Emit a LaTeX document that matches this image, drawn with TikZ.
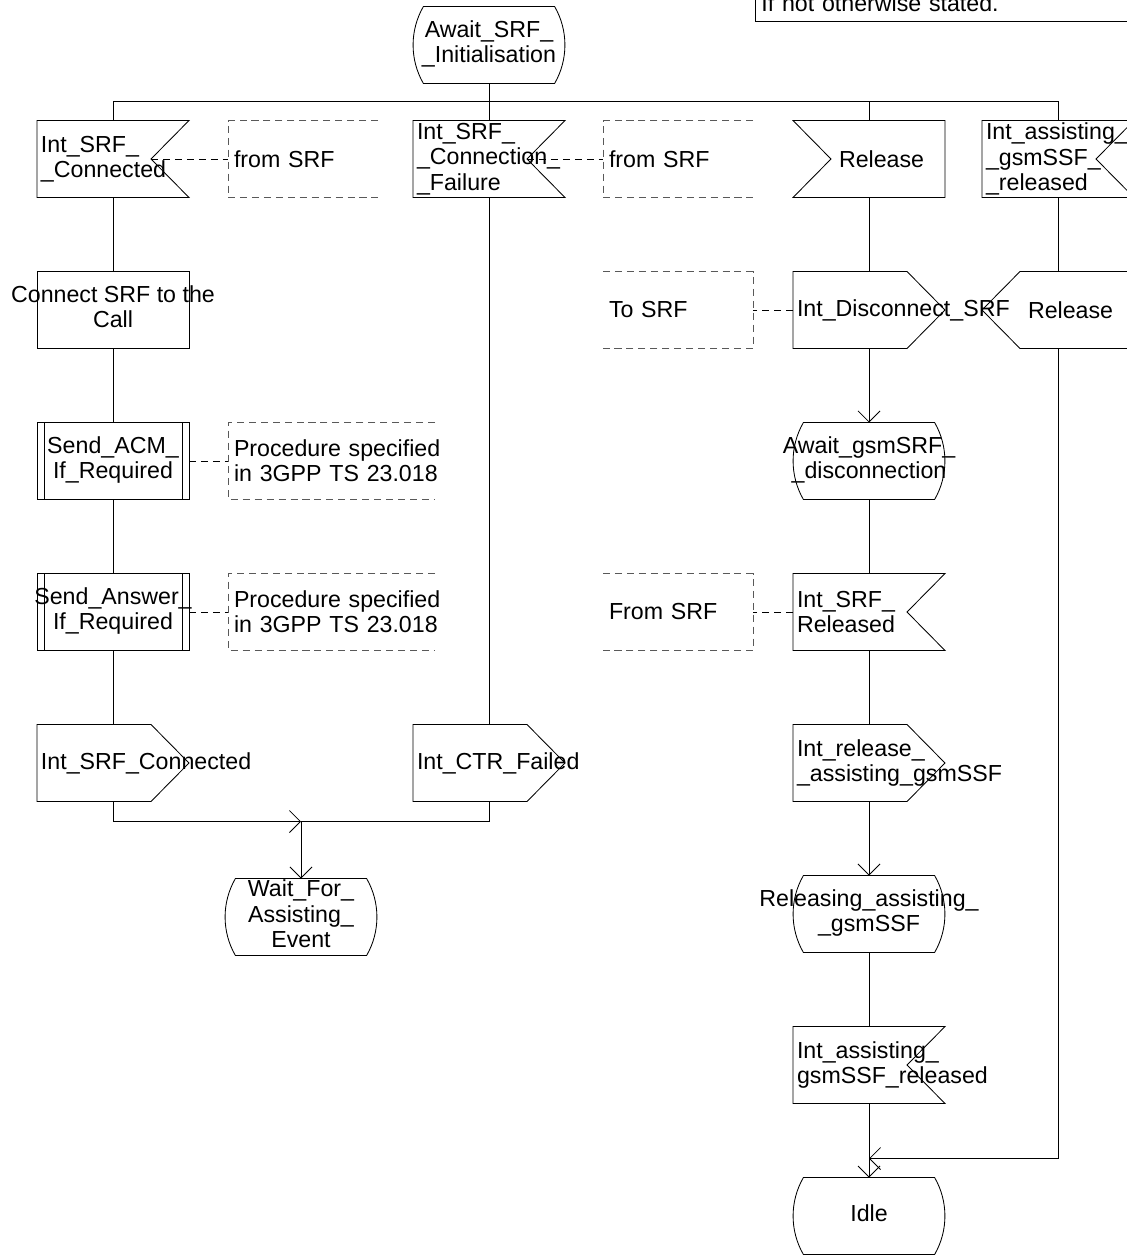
\documentclass[tikz,border=0pt]{standalone}
\usepackage{fontspec}
\setmainfont{Liberation Sans}
\usetikzlibrary{arrows.meta,positioning,calc}
\newcommand{\zc}[1]{\makebox[0pt]{\begin{tabular}{@{}c@{}}#1\end{tabular}}}

\begin{document}
\begin{tikzpicture}[
font=\fontsize{16.5}{18}\selectfont,
line width=0.6pt,
node distance=1.85cm and 5.6cm,
sdl/.style={minimum width=3.8cm,minimum height=1.925cm,inner sep=0pt,outer sep=0pt},
lt/.style={inner xsep=0.1cm,text width=3.6cm,align=left},
task/.style={sdl,draw},
proc/.style={sdl,draw,append after command={\pgfextra{
  \draw ([xshift=0.175cm]\tikzlastnode.north west) -- ([xshift=0.175cm]\tikzlastnode.south west)
        ([xshift=-0.175cm]\tikzlastnode.north east) -- ([xshift=-0.175cm]\tikzlastnode.south east);}}},
inr/.style={sdl,append after command={\pgfextra{
  \draw (\tikzlastnode.north west) -- (\tikzlastnode.north east) -- ([xshift=-0.95cm]\tikzlastnode.east)
        -- (\tikzlastnode.south east) -- (\tikzlastnode.south west) -- cycle;}}},
inl/.style={sdl,append after command={\pgfextra{
  \draw (\tikzlastnode.north west) -- (\tikzlastnode.north east) -- (\tikzlastnode.south east)
        -- (\tikzlastnode.south west) -- ([xshift=0.95cm]\tikzlastnode.west) -- cycle;}}},
outr/.style={sdl,append after command={\pgfextra{
  \draw (\tikzlastnode.north west) -- ([xshift=-0.95cm]\tikzlastnode.north east) -- (\tikzlastnode.east)
        -- ([xshift=-0.95cm]\tikzlastnode.south east) -- (\tikzlastnode.south west) -- cycle;}}},
outl/.style={sdl,append after command={\pgfextra{
  \draw ([xshift=0.95cm]\tikzlastnode.north west) -- (\tikzlastnode.north east) -- (\tikzlastnode.south east)
        -- ([xshift=0.95cm]\tikzlastnode.south west) -- (\tikzlastnode.west) -- cycle;}}},
state/.style={sdl,append after command={\pgfextra{
  \draw ([xshift=0.26cm]\tikzlastnode.north west) -- ([xshift=-0.26cm]\tikzlastnode.north east)
        arc[start angle=30,end angle=-30,radius=1.925cm] -- ([xshift=0.26cm]\tikzlastnode.south west)
        arc[start angle=210,end angle=150,radius=1.925cm] -- cycle;}}},
cmt/.style={minimum height=1.925cm,inner xsep=0.15cm,inner ysep=0pt,outer sep=0pt,text width=3.45cm,align=left},
cmtl/.style={cmt,append after command={\pgfextra{
  \draw[black!65,dash pattern=on 5pt off 3.5pt] (\tikzlastnode.north east) -- (\tikzlastnode.north west)
        -- (\tikzlastnode.south west) -- (\tikzlastnode.south east);}}},
cmtr/.style={cmt,append after command={\pgfextra{
  \draw[black!65,dash pattern=on 5pt off 3.5pt] (\tikzlastnode.north west) -- (\tikzlastnode.north east)
        -- (\tikzlastnode.south east) -- (\tikzlastnode.south west);}}},
cline/.style={dash pattern=on 5pt off 3.5pt},
arr/.style={-{Straight Barb[length=7.8pt,width=15.6pt]}}
]
\useasboundingbox (0,0) rectangle (28.175,-31.4);

\node[draw,anchor=south west,inner xsep=0.15cm,inner ysep=0.05cm,text depth=0.19cm,text width=9.7cm,align=left]
  (note) at (18.875,-0.55) {If not otherwise stated.};

\node[state] (initst) at (12.225,-1.125) {\zc{Await\_SRF\_\\\_Initialisation}};
\node[inr,lt,below=0.925cm of initst] (confail) {Int\_SRF\_\\\_Connection\_\\\_Failure};
\node[inr,lt,left=of confail] (srfcon) {Int\_SRF\_\\\_Connected};
\node[inl,lt,right=5.7cm of confail] (relin) {\hspace*{1.05cm}Release};
\node[inr,lt,right=0.925cm of relin] (assrel) {Int\_assisting\_\\\_gsmSSF\_\\\_released};

\node[task,below=of srfcon] (conn) {\zc{Connect SRF to the\\Call}};
\node[proc,below=of conn] (sendacm) {\zc{Send\_ACM\_\\If\_Required}};
\node[proc,below=of sendacm] (sendans) {\zc{Send\_Answer\_\\If\_Required}};
\node[outr,lt,below=of sendans] (srfconout) {Int\_SRF\_Connected};
\node[outr,lt,right=of srfconout] (ctrfail) {Int\_CTR\_Failed};
\coordinate (mid) at ($(srfconout.south)!0.5!(ctrfail.south)$);
\coordinate (join) at ([yshift=-0.5cm]mid);
\node[state,below=1.925cm of mid] (waitev) {\zc{Wait\_For\_\\Assisting\_\\Event}};

\node[outr,lt,below=of relin] (disc) {Int\_Disconnect\_SRF};
\node[state,below=of disc] (gsmdisc) {\zc{Await\_gsmSRF\_\\\_disconnection}};
\node[inr,lt,below=of gsmdisc] (srfrel) {Int\_SRF\_\\Released};
\node[outr,lt,below=of srfrel] (relssfout) {Int\_release\_\\\_assisting\_gsmSSF};
\node[state,below=of relssfout] (relssf) {\zc{Releasing\_assisting\_\\\_gsmSSF}};
\node[inr,lt,below=of relssf] (assrelin) {Int\_assisting\_\\gsmSSF\_released};
\node[state,below=of assrelin] (idle) {\zc{Idle}};
\node[outl,lt,below=of assrel] (relout) {\hspace*{1.05cm}Release};
\coordinate (idlejoin) at ([yshift=0.475cm]idle.north);

\node[cmtl,right=0.975cm of srfcon] (srcm1) {from SRF};
\node[cmtl,right=0.95cm of confail] (srcm2) {from SRF};
\node[cmtl,text width=4.875cm,right=0.975cm of sendacm] (acmnote) {\mbox{Procedure specified}\\\mbox{in 3GPP TS 23.018}};
\node[cmtl,text width=4.875cm,right=0.975cm of sendans] (ansnote) {\mbox{Procedure specified}\\\mbox{in 3GPP TS 23.018}};
\node[cmtr,left=1cm of disc] (tosrf) {To SRF};
\node[cmtr,left=1cm of srfrel] (fromsrf) {From SRF};

\coordinate (bus) at ([yshift=-0.44cm]initst.south);
\draw (initst) -- (confail);
\draw (srfcon.north) |- (bus) -| (assrel.north);
\draw (relin.north) |- (bus);
\draw (srfcon) -- (conn) -- (sendacm) -- (sendans) -- (srfconout);
\draw (confail) -- (ctrfail);
\draw[arr] (srfconout.south) |- (join);
\draw (ctrfail.south) |- (join);
\draw[arr] (join) -- (waitev);
\draw (relin) -- (disc);
\draw[arr] (disc) -- (gsmdisc);
\draw (gsmdisc) -- (srfrel) -- (relssfout);
\draw[arr] (relssfout) -- (relssf);
\draw (relssf) -- (assrelin);
\draw[arr] (assrelin) -- (idle);
\draw (assrel) -- (relout);
\draw[arr] (relout.south) |- (idlejoin);

\draw[cline] ([xshift=-0.95cm]srfcon.east) -- (srcm1);
\draw[cline] ([xshift=-0.95cm]confail.east) -- (srcm2);
\draw[cline] (sendacm) -- (acmnote);
\draw[cline] (sendans) -- (ansnote);
\draw[cline] (disc) -- (tosrf);
\draw[cline] (srfrel) -- (fromsrf);
\end{tikzpicture}
\end{document}
